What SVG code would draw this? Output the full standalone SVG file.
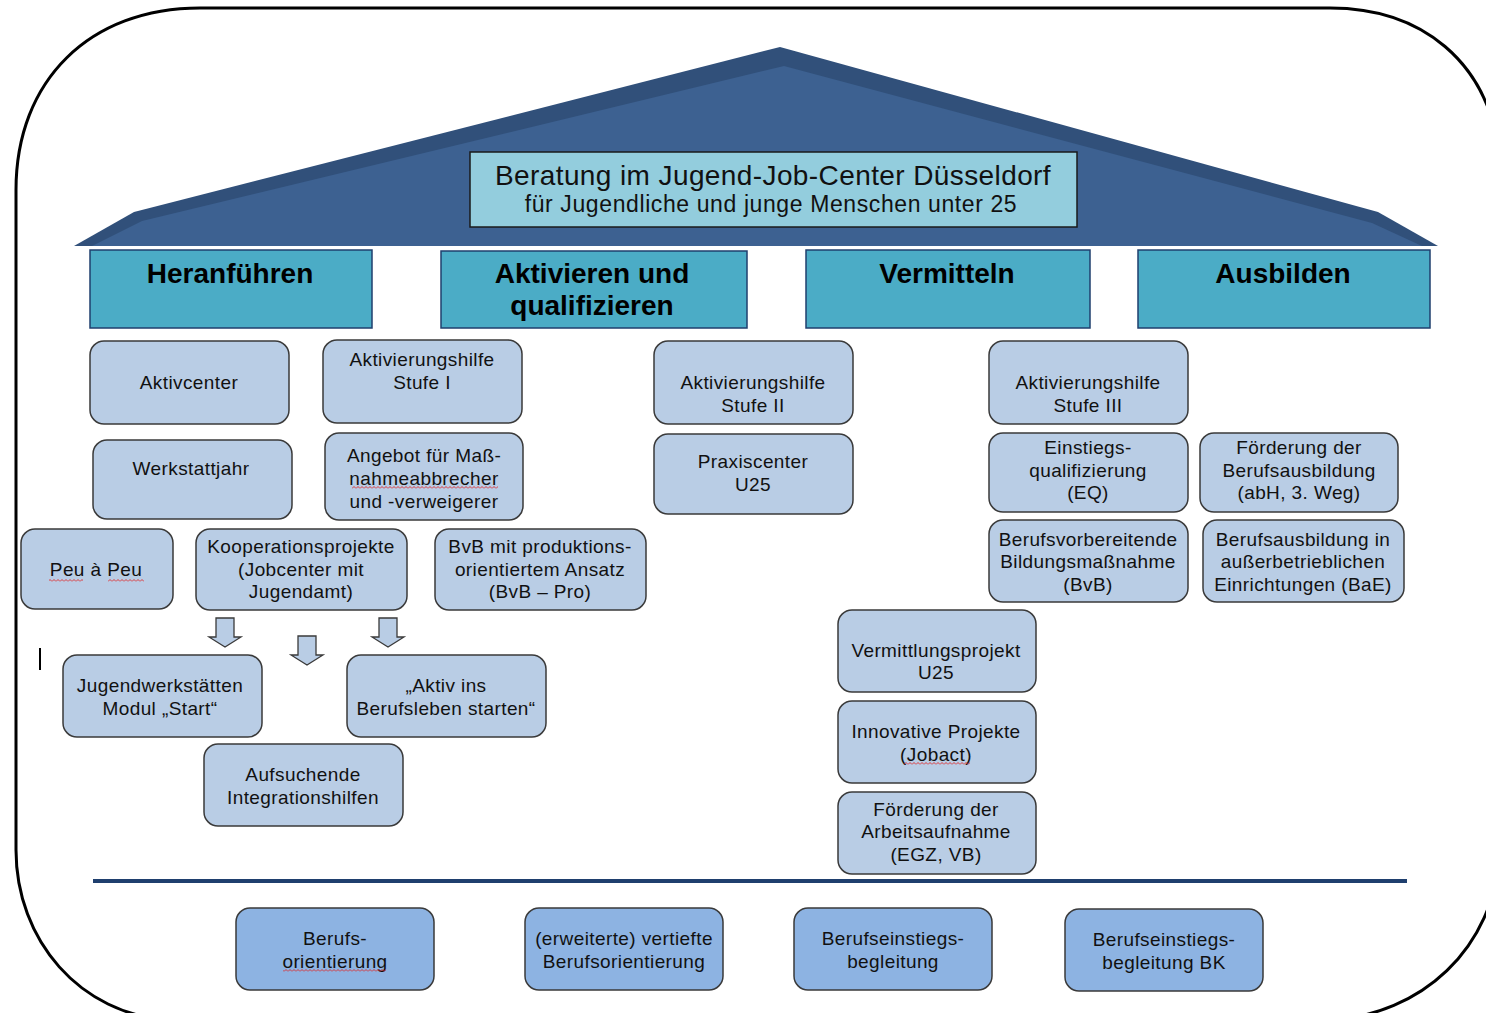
<svg xmlns="http://www.w3.org/2000/svg" width="1486" height="1013" viewBox="0 0 1486 1013">
<style>
.frame{fill:none;stroke:#000;stroke-width:3}
.hdr rect{fill:#4bacc6;stroke:#1f3f6e;stroke-width:1.5}
.hdr text{font-family:"Liberation Sans",Arial,sans-serif;font-weight:bold;font-size:28px;fill:#000;text-anchor:middle}
.box rect{fill:#b9cde5;stroke:#3a3a3a;stroke-width:1.5}
.bot rect{fill:#8db3e2;stroke:#3a3a3a;stroke-width:1.5}
.box text,.bot text{font-family:"Liberation Sans",Arial,sans-serif;font-size:19px;letter-spacing:0.4px;fill:#111;text-anchor:middle}
.arrow{fill:#b9cde5;stroke:#3a3a3a;stroke-width:1.3}
</style>
<defs>
<pattern id="sq" width="4" height="3" patternUnits="userSpaceOnUse"><path d="M0,2.5 L2,0.5 L4,2.5" fill="none" stroke="#e02828" stroke-width="0.9"/></pattern>
<clipPath id="seam"><rect x="0" y="441" width="1486" height="100"/></clipPath>
</defs>
<rect width="1486" height="1013" fill="#fff"/>
<path class="frame" d="M200,8 L1330,8 C1420,8 1490,60 1500,160 L1500,850 C1495,950 1420,1015 1330,1020 L170,1020 C80,1015 16,940 16,850 L16,190 C16,80 90,8 200,8 Z"/>
<g id="roof">
<polygon points="74,246 134,212 780,47 1378,212 1438,246" fill="#31507a"/>
<polygon points="92,246 142,221 784,66 1372,223 1422,246" fill="#3d6191"/>
</g>
<g id="title">
<rect x="470" y="152" width="607" height="75" fill="#93cddd" stroke="#1a1a1a" stroke-width="1.5"/>
<text x="773" y="185" font-family="'Liberation Sans',Arial,sans-serif" font-size="28" letter-spacing="0.4" text-anchor="middle" fill="#111">Beratung im Jugend-Job-Center Düsseldorf</text>
<text x="771" y="212" font-family="'Liberation Sans',Arial,sans-serif" font-size="23" letter-spacing="0.6" text-anchor="middle" fill="#111">für Jugendliche und junge Menschen unter 25</text>
</g>
<g id="h-heranfuehren" class="hdr"><rect x="90" y="250" width="282" height="78"/><text x="230" y="283">Heranführen</text></g>
<g id="h-aktivieren" class="hdr"><rect x="441" y="251" width="306" height="77"/><text x="592" y="283">Aktivieren und</text><text x="592" y="315">qualifizieren</text></g>
<g id="h-vermitteln" class="hdr"><rect x="806" y="250" width="284" height="78"/><text x="947" y="283">Vermitteln</text></g>
<g id="h-ausbilden" class="hdr"><rect x="1138" y="250" width="292" height="78"/><text x="1283" y="283">Ausbilden</text></g>

<g id="n-aktivcenter" class="box"><rect x="90" y="341" width="199" height="83" rx="14"/><text x="189" y="389">Aktivcenter</text></g>
<g id="n-ah1" class="box"><rect x="323" y="340" width="199" height="83" rx="14"/><text x="422" y="366">Aktivierungshilfe</text><text x="422" y="389">Stufe I</text></g>
<g id="n-ah2" class="box"><rect x="654" y="341" width="199" height="83" rx="14"/><text x="753" y="389">Aktivierungshilfe</text><text x="753" y="412">Stufe II</text></g>
<g id="n-ah3" class="box"><rect x="989" y="341" width="199" height="83" rx="14"/><text x="1088" y="389">Aktivierungshilfe</text><text x="1088" y="412">Stufe III</text></g>
<g id="n-werkstattjahr" class="box"><rect x="93" y="440" width="199" height="79" rx="14"/><text x="191" y="475">Werkstattjahr</text></g>
<g id="n-angebot" class="box"><rect x="325" y="433" width="198" height="87" rx="14"/><text x="424" y="462">Angebot für Maß-</text><text x="424" y="485">nahmeabbrecher</text><text x="424" y="508">und -verweigerer</text><rect x="352" y="486" width="146" height="3" style="stroke:none;fill:url(#sq)"/></g>
<g id="n-praxiscenter" class="box"><rect x="654" y="434" width="199" height="80" rx="14"/><text x="753" y="468">Praxiscenter</text><text x="753" y="491">U25</text></g>
<g id="n-eq" class="box"><rect x="989" y="433" width="199" height="79" rx="14"/><text x="1088" y="454" clip-path="url(#seam)">Einstiegs-</text><text x="1088" y="477">qualifizierung</text><text x="1088" y="499">(EQ)</text></g>
<g id="n-foerderung-ausb" class="box"><rect x="1200" y="433" width="198" height="79" rx="14"/><text x="1299" y="454" clip-path="url(#seam)">Förderung der</text><text x="1299" y="477">Berufsausbildung</text><text x="1299" y="499">(abH, 3. Weg)</text></g>
<g id="n-peu" class="box"><rect x="21" y="529" width="152" height="80" rx="14"/><text x="96" y="576">Peu à Peu</text><rect x="49" y="579" width="34" height="3" style="stroke:none;fill:url(#sq)"/><rect x="108" y="579" width="36" height="3" style="stroke:none;fill:url(#sq)"/></g>
<g id="n-kooperation" class="box"><rect x="196" y="529" width="211" height="81" rx="14"/><text x="301" y="553">Kooperationsprojekte</text><text x="301" y="576">(Jobcenter mit</text><text x="301" y="598">Jugendamt)</text></g>
<g id="n-bvbpro" class="box"><rect x="435" y="529" width="211" height="81" rx="14"/><text x="540" y="553">BvB mit produktions-</text><text x="540" y="576">orientiertem Ansatz</text><text x="540" y="598">(BvB – Pro)</text></g>
<g id="n-bvb" class="box"><rect x="989" y="520" width="199" height="82" rx="14"/><text x="1088" y="546">Berufsvorbereitende</text><text x="1088" y="568">Bildungsmaßnahme</text><text x="1088" y="591">(BvB)</text></g>
<g id="n-bae" class="box"><rect x="1203" y="520" width="201" height="82" rx="14"/><text x="1303" y="546">Berufsausbildung in</text><text x="1303" y="568">außerbetrieblichen</text><text x="1303" y="591">Einrichtungen (BaE)</text></g>
<g id="n-jugendwerk" class="box"><rect x="63" y="655" width="199" height="82" rx="14"/><text x="160" y="692">Jugendwerkstätten</text><text x="160" y="715">Modul „Start“</text></g>
<g id="n-aktivins" class="box"><rect x="347" y="655" width="199" height="82" rx="14"/><text x="446" y="692">„Aktiv ins</text><text x="446" y="715">Berufsleben starten“</text></g>
<g id="n-aufsuchende" class="box"><rect x="204" y="744" width="199" height="82" rx="14"/><text x="303" y="781">Aufsuchende</text><text x="303" y="804">Integrationshilfen</text></g>
<g id="n-vermittlung" class="box"><rect x="838" y="610" width="198" height="82" rx="14"/><text x="936" y="657">Vermittlungsprojekt</text><text x="936" y="679">U25</text></g>
<g id="n-innovative" class="box"><rect x="838" y="701" width="198" height="82" rx="14"/><text x="936" y="738">Innovative Projekte</text><text x="936" y="761">(Jobact)</text><rect x="904" y="762" width="66" height="3" style="stroke:none;fill:url(#sq)"/></g>
<g id="n-arbeitsaufnahme" class="box"><rect x="838" y="792" width="198" height="82" rx="14"/><text x="936" y="816">Förderung der</text><text x="936" y="838">Arbeitsaufnahme</text><text x="936" y="861">(EGZ, VB)</text></g>

<line x1="40" y1="648" x2="40" y2="670" stroke="#000" stroke-width="2"/>

<g id="connectors">
<path class="arrow" d="M216,618 H234 V637 H241 L225,647 L209,637 H216 Z"/>
<path class="arrow" d="M298,636 H316 V655 H323 L307,665 L291,655 H298 Z"/>
<path class="arrow" d="M379,618 H397 V637 H404 L388,647 L372,637 H379 Z"/>
</g>

<line id="divider" x1="93" y1="881" x2="1407" y2="881" stroke="#1f3f6e" stroke-width="4"/>

<g id="b-berufsorientierung" class="bot"><rect x="236" y="908" width="198" height="82" rx="14"/><text x="335" y="945">Berufs-</text><text x="335" y="968">orientierung</text><rect x="283" y="969" width="103" height="3" style="stroke:none;fill:url(#sq)"/></g>
<g id="b-vertiefte" class="bot"><rect x="525" y="908" width="198" height="82" rx="14"/><text x="624" y="945">(erweiterte) vertiefte</text><text x="624" y="968">Berufsorientierung</text></g>
<g id="b-berufseinstieg" class="bot"><rect x="794" y="908" width="198" height="82" rx="14"/><text x="893" y="945">Berufseinstiegs-</text><text x="893" y="968">begleitung</text></g>
<g id="b-berufseinstieg-bk" class="bot"><rect x="1065" y="909" width="198" height="82" rx="14"/><text x="1164" y="946">Berufseinstiegs-</text><text x="1164" y="969">begleitung BK</text></g>
</svg>
